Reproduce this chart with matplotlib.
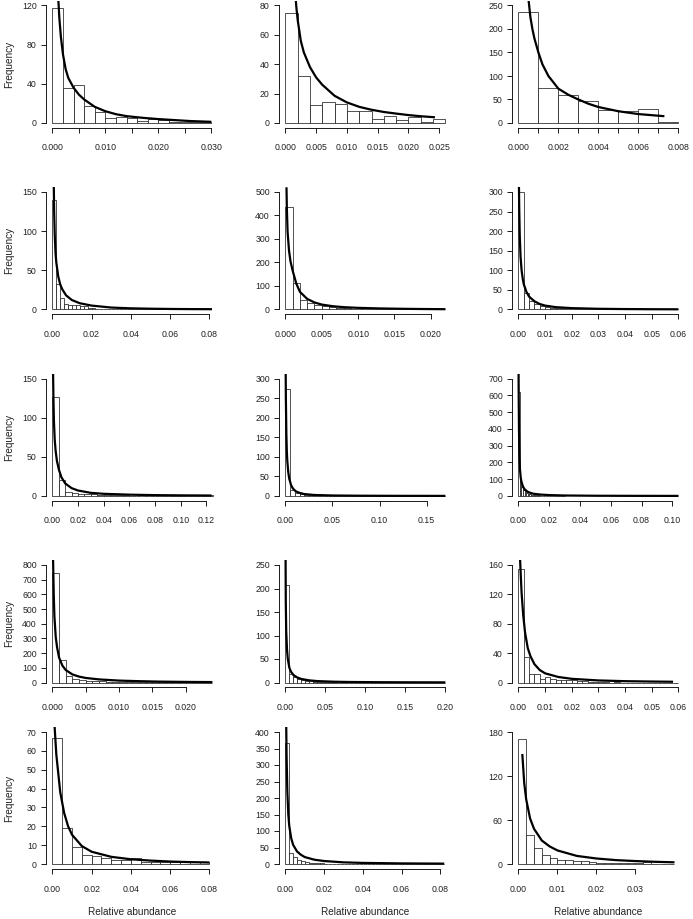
import matplotlib
matplotlib.use('Agg')
import matplotlib.pyplot as plt
import numpy as np

plt.rcParams['font.family'] = ['Liberation Sans', 'DejaVu Sans']

# ------------------------------------------------------------------ data
# Row 1
bw_r1c1 = 0.002
counts_r1c1 = [117, 36, 39, 17, 11, 5, 6, 5, 2, 4, 3, 1, 1, 1, 1]
cx_r1c1 = [0.0011, 0.0013, 0.0016, 0.002, 0.0025, 0.003, 0.004, 0.005, 0.006, 0.008,
           0.010, 0.012, 0.014, 0.017, 0.020, 0.023, 0.026, 0.030]
cy_r1c1 = [128, 108, 88, 70, 55, 46, 36, 29, 24, 16.5, 12, 9, 7, 5.3, 4, 3, 2, 1.2]
yt_r1c1 = [0, 40, 80, 120]
xt_r1c1 = [0, 0.005, 0.010, 0.015, 0.020, 0.025, 0.030]
xl_r1c1 = ['0.000', '', '0.010', '', '0.020', '', '0.030']
xmax_r1c1 = 0.0302

bw_r1c2 = 0.002
counts_r1c2 = [75, 32, 12, 14, 13, 8, 8, 3, 5, 2, 4, 1, 3]
cx_r1c2 = [0.0016, 0.0018, 0.002, 0.0025, 0.003, 0.004, 0.005, 0.006, 0.008, 0.010,
           0.012, 0.014, 0.016, 0.018, 0.020, 0.022, 0.0243]
cy_r1c2 = [88, 78, 70, 56, 48, 38, 31, 26, 18.5, 14, 11, 9, 7.5, 6.4, 5.4, 4.6, 3.9]
yt_r1c2 = [0, 20, 40, 60, 80]
xt_r1c2 = [0, 0.005, 0.010, 0.015, 0.020, 0.025]
xl_r1c2 = ['0.000', '0.005', '0.010', '0.015', '0.020', '0.025']
xmax_r1c2 = 0.026

bw_r1c3 = 0.001
counts_r1c3 = [236, 75, 59, 47, 27, 25, 29, 3]
cx_r1c3 = [0.0005, 0.0006, 0.0007, 0.0008, 0.001, 0.0012, 0.0015, 0.002, 0.0025, 0.003,
           0.0035, 0.004, 0.005, 0.006, 0.007, 0.0073]
cy_r1c3 = [265, 225, 200, 180, 150, 125, 100, 73, 60, 50, 41, 34, 25, 19, 15.5, 14.5]
yt_r1c3 = [0, 50, 100, 150, 200, 250]
xt_r1c3 = [0, 0.001, 0.002, 0.003, 0.004, 0.005, 0.006, 0.007, 0.008]
xl_r1c3 = ['0.000', '', '0.002', '', '0.004', '', '0.006', '', '0.008']
xmax_r1c3 = 0.008

# Row 2
bw_r2c1 = 0.002
counts_r2c1 = [140, 32, 15, 7, 6, 6, 6, 4, 5, 2, 2, 1, 1, 1, 1, 0, 1, 0, 0, 0,
               0, 0, 0, 0, 0, 0, 0, 0, 0, 0, 0, 0, 0, 0, 0, 0, 0, 0, 0, 1]
cx_r2c1 = [0.0007, 0.0009, 0.0012, 0.0016, 0.002, 0.003, 0.004, 0.005, 0.007, 0.010,
           0.014, 0.020, 0.030, 0.040, 0.050, 0.060, 0.070, 0.0815]
cy_r2c1 = [160, 125, 95, 72, 60, 42, 32, 26, 18, 12, 8, 5, 2.5, 1.5, 1, 0.7, 0.5, 0.4]
yt_r2c1 = [0, 50, 100, 150]
xt_r2c1 = [0, 0.02, 0.04, 0.06, 0.08]
xl_r2c1 = ['0.00', '0.02', '0.04', '0.06', '0.08']
xmax_r2c1 = 0.0817

bw_r2c2 = 0.001
counts_r2c2 = [435, 113, 42, 28, 21, 14, 11, 8, 6, 4, 3, 3, 2, 2, 1, 1, 1, 1, 0, 1, 0, 1]
cx_r2c2 = [0.00015, 0.0002, 0.0003, 0.0005, 0.0007, 0.001, 0.0015, 0.002, 0.003, 0.004,
           0.005, 0.0065, 0.008, 0.010, 0.013, 0.016, 0.019, 0.022]
cy_r2c2 = [520, 430, 330, 250, 205, 165, 110, 75, 45, 30, 21, 14, 10, 7, 4.5, 3, 2, 1.3]
yt_r2c2 = [0, 100, 200, 300, 400, 500]
xt_r2c2 = [0, 0.005, 0.010, 0.015, 0.020]
xl_r2c2 = ['0.000', '0.005', '0.010', '0.015', '0.020']
xmax_r2c2 = 0.022

bw_r2c3 = 0.002
counts_r2c3 = [301, 42, 22, 14, 10, 7, 5, 4, 3, 2, 2, 1, 1, 1, 1, 1, 0, 1, 0, 0,
               0, 0, 0, 0, 0, 0, 0, 0, 0, 0]
cx_r2c3 = [0.0002, 0.0003, 0.0005, 0.0008, 0.0012, 0.0016, 0.002, 0.003, 0.004, 0.006,
           0.008, 0.010, 0.014, 0.020, 0.030, 0.040, 0.050, 0.060]
cy_r2c3 = [320, 260, 190, 135, 100, 80, 65, 45, 33, 21, 14, 10, 6, 3.5, 1.8, 1.1, 0.7, 0.5]
yt_r2c3 = [0, 50, 100, 150, 200, 250, 300]
xt_r2c3 = [0, 0.01, 0.02, 0.03, 0.04, 0.05, 0.06]
xl_r2c3 = ['0.00', '0.01', '0.02', '0.03', '0.04', '0.05', '0.06']
xmax_r2c3 = 0.06

# Row 3
bw_r3c1 = 0.005
counts_r3c1 = [126, 20, 5, 4, 3, 3, 2, 1, 1, 1, 1, 1, 0, 0, 0, 0, 0, 0, 0, 1, 0, 0, 0, 0, 1]
cx_r3c1 = [0.0005, 0.0008, 0.0012, 0.0018, 0.0025, 0.0035, 0.005, 0.007, 0.010, 0.015,
           0.020, 0.030, 0.040, 0.060, 0.080, 0.100, 0.124]
cy_r3c1 = [160, 125, 95, 72, 58, 45, 34, 24, 16, 10, 7, 4, 2.8, 1.7, 1.1, 0.8, 0.6]
yt_r3c1 = [0, 50, 100, 150]
xt_r3c1 = [0, 0.02, 0.04, 0.06, 0.08, 0.10, 0.12]
xl_r3c1 = ['0.00', '0.02', '0.04', '0.06', '0.08', '0.10', '0.12']
xmax_r3c1 = 0.1247

bw_r3c2 = 0.005
counts_r3c2 = [273, 15, 8, 5, 3, 2, 2, 1, 1, 1, 1, 0, 1, 0, 0, 0, 0, 0, 0, 0,
               0, 0, 0, 0, 0, 0, 0, 0, 0, 0, 0, 0, 0, 0]
cx_r3c2 = [0.0003, 0.0005, 0.001, 0.0015, 0.002, 0.003, 0.004, 0.006, 0.008, 0.011,
           0.015, 0.020, 0.030, 0.050, 0.080, 0.120, 0.170]
cy_r3c2 = [320, 250, 160, 115, 90, 62, 45, 28, 19, 12, 8, 5, 2.7, 1.3, 0.7, 0.4, 0.3]
yt_r3c2 = [0, 50, 100, 150, 200, 250, 300]
xt_r3c2 = [0, 0.05, 0.10, 0.15]
xl_r3c2 = ['0.00', '0.05', '0.10', '0.15']
xmax_r3c2 = 0.170

bw_r3c3 = 0.001
counts_r3c3 = [622, 110, 55, 35, 25, 18, 14, 10, 8, 6, 5, 4, 3, 3, 2, 2, 2, 1, 1, 1,
               1, 1, 0, 1, 0, 1, 0, 0, 1, 0]
cx_r3c3 = [0.0001, 0.0002, 0.0004, 0.0007, 0.001, 0.0015, 0.002, 0.003, 0.004, 0.006,
           0.008, 0.010, 0.015, 0.020, 0.030, 0.050, 0.075, 0.104]
cy_r3c3 = [760, 600, 380, 230, 160, 110, 84, 56, 40, 25, 18, 13, 8, 5.5, 3, 1.5, 0.9, 0.6]
yt_r3c3 = [0, 100, 200, 300, 400, 500, 600, 700]
xt_r3c3 = [0, 0.02, 0.04, 0.06, 0.08, 0.10]
xl_r3c3 = ['0.00', '0.02', '0.04', '0.06', '0.08', '0.10']
xmax_r3c3 = 0.1039

# Row 4
bw_r4c1 = 0.001
counts_r4c1 = [748, 154, 45, 25, 18, 13, 9, 7, 5, 4, 3, 3, 2, 2, 1, 1, 1, 1, 1, 1,
               1, 0, 1, 0]
cx_r4c1 = [0.0001, 0.0002, 0.0003, 0.0005, 0.0007, 0.001, 0.0015, 0.002, 0.003, 0.004,
           0.005, 0.007, 0.010, 0.013, 0.016, 0.020, 0.024]
cy_r4c1 = [840, 600, 450, 310, 240, 170, 115, 85, 55, 40, 31, 21, 13, 9, 6, 4, 2.8]
yt_r4c1 = [0, 100, 200, 300, 400, 500, 600, 700, 800]
xt_r4c1 = [0, 0.005, 0.010, 0.015, 0.020]
xl_r4c1 = ['0.000', '0.005', '0.010', '0.015', '0.020']
xmax_r4c1 = 0.024

bw_r4c2 = 0.005
counts_r4c2 = [208, 18, 11, 8, 6, 4, 3, 2, 2, 1, 1, 1, 1, 0, 1, 0, 0, 0, 0, 0,
               0, 0, 0, 0, 0, 0, 0, 0, 0, 0, 0, 0, 0, 0, 0, 0, 0, 0, 0, 0]
cx_r4c2 = [0.0002, 0.0005, 0.001, 0.002, 0.003, 0.005, 0.007, 0.010, 0.015, 0.020,
           0.030, 0.040, 0.060, 0.080, 0.120, 0.160, 0.200]
cy_r4c2 = [270, 170, 110, 70, 50, 31, 23, 16, 10.5, 7.5, 4.5, 3, 1.7, 1.1, 0.6, 0.4, 0.3]
yt_r4c2 = [0, 50, 100, 150, 200, 250]
xt_r4c2 = [0, 0.05, 0.10, 0.15, 0.20]
xl_r4c2 = ['0.00', '0.05', '0.10', '0.15', '0.20']
xmax_r4c2 = 0.20

bw_r4c3 = 0.002
counts_r4c3 = [155, 35, 12, 12, 5, 8, 5, 3, 4, 3, 3, 2, 2, 1, 1, 1, 1, 0, 1, 0,
               0, 0, 0, 0, 0, 0, 0, 0, 0, 0]
cx_r4c3 = [0.0006, 0.0009, 0.0012, 0.0018, 0.0025, 0.0035, 0.0045, 0.006, 0.008, 0.010,
           0.015, 0.020, 0.030, 0.040, 0.050, 0.058]
cy_r4c3 = [170, 145, 122, 92, 68, 47, 36, 25, 17, 12.5, 7.5, 5, 2.8, 1.8, 1.3, 1.0]
yt_r4c3 = [0, 40, 80, 120, 160]
xt_r4c3 = [0, 0.01, 0.02, 0.03, 0.04, 0.05, 0.06]
xl_r4c3 = ['0.00', '0.01', '0.02', '0.03', '0.04', '0.05', '0.06']
xmax_r4c3 = 0.06

# Row 5
bw_r5c1 = 0.005
counts_r5c1 = [67, 19, 9, 5, 4, 3, 2, 2, 3, 1, 1, 1, 1, 1, 0, 1]
cx_r5c1 = [0.001, 0.002, 0.004, 0.006, 0.008, 0.010, 0.015, 0.020, 0.030, 0.040,
           0.050, 0.060, 0.070, 0.080]
cy_r5c1 = [75, 58, 38, 27, 20, 15.5, 9.5, 6.5, 3.8, 2.5, 1.8, 1.3, 1.0, 0.8]
yt_r5c1 = [0, 10, 20, 30, 40, 50, 60, 70]
xt_r5c1 = [0, 0.02, 0.04, 0.06, 0.08]
xl_r5c1 = ['0.00', '0.02', '0.04', '0.06', '0.08']
xmax_r5c1 = 0.0815

bw_r5c2 = 0.002
counts_r5c2 = [368, 32, 22, 12, 8, 5, 4, 3, 2, 2, 1, 1, 1, 1, 0, 1, 0, 0, 0, 1,
               0, 0, 0, 0, 0, 0, 0, 0, 0, 0, 0, 0, 0, 0, 0, 0, 0, 0, 0, 0, 0]
cx_r5c2 = [0.0004, 0.0006, 0.001, 0.0015, 0.002, 0.003, 0.004, 0.006, 0.008, 0.010,
           0.015, 0.020, 0.030, 0.040, 0.060, 0.082]
cy_r5c2 = [430, 330, 220, 150, 115, 78, 58, 38, 28, 21, 13, 9, 5, 3.3, 1.8, 1.1]
yt_r5c2 = [0, 50, 100, 150, 200, 250, 300, 350, 400]
xt_r5c2 = [0, 0.02, 0.04, 0.06, 0.08]
xl_r5c2 = ['0.00', '0.02', '0.04', '0.06', '0.08']
xmax_r5c2 = 0.0826

bw_r5c3 = 0.002
counts_r5c3 = [170, 40, 22, 12, 8, 6, 5, 4, 4, 3, 2, 2, 2, 1, 1, 1, 3, 0, 0, 0]
cx_r5c3 = [0.001, 0.0015, 0.002, 0.003, 0.004, 0.006, 0.008, 0.010, 0.015, 0.020,
           0.025, 0.030, 0.035, 0.040]
cy_r5c3 = [150, 110, 88, 62, 48, 32, 24, 18.5, 11, 7.5, 5.3, 4, 3, 2.3]
yt_r5c3 = [0, 60, 120, 180]
xt_r5c3 = [0, 0.01, 0.02, 0.03]
xl_r5c3 = ['0.00', '0.01', '0.02', '0.03']
xmax_r5c3 = 0.041

ylabel_text = 'Frequency'
xlabel_text = 'Relative abundance'

# ------------------------------------------------------------------ layout
W, H = 693, 919
fig = plt.figure(figsize=(W / 100, H / 100), dpi=100)

panels = [
    [(bw_r1c1, counts_r1c1, cx_r1c1, cy_r1c1, yt_r1c1, xt_r1c1, xl_r1c1, xmax_r1c1),
     (bw_r1c2, counts_r1c2, cx_r1c2, cy_r1c2, yt_r1c2, xt_r1c2, xl_r1c2, xmax_r1c2),
     (bw_r1c3, counts_r1c3, cx_r1c3, cy_r1c3, yt_r1c3, xt_r1c3, xl_r1c3, xmax_r1c3)],
    [(bw_r2c1, counts_r2c1, cx_r2c1, cy_r2c1, yt_r2c1, xt_r2c1, xl_r2c1, xmax_r2c1),
     (bw_r2c2, counts_r2c2, cx_r2c2, cy_r2c2, yt_r2c2, xt_r2c2, xl_r2c2, xmax_r2c2),
     (bw_r2c3, counts_r2c3, cx_r2c3, cy_r2c3, yt_r2c3, xt_r2c3, xl_r2c3, xmax_r2c3)],
    [(bw_r3c1, counts_r3c1, cx_r3c1, cy_r3c1, yt_r3c1, xt_r3c1, xl_r3c1, xmax_r3c1),
     (bw_r3c2, counts_r3c2, cx_r3c2, cy_r3c2, yt_r3c2, xt_r3c2, xl_r3c2, xmax_r3c2),
     (bw_r3c3, counts_r3c3, cx_r3c3, cy_r3c3, yt_r3c3, xt_r3c3, xl_r3c3, xmax_r3c3)],
    [(bw_r4c1, counts_r4c1, cx_r4c1, cy_r4c1, yt_r4c1, xt_r4c1, xl_r4c1, xmax_r4c1),
     (bw_r4c2, counts_r4c2, cx_r4c2, cy_r4c2, yt_r4c2, xt_r4c2, xl_r4c2, xmax_r4c2),
     (bw_r4c3, counts_r4c3, cx_r4c3, cy_r4c3, yt_r4c3, xt_r4c3, xl_r4c3, xmax_r4c3)],
    [(bw_r5c1, counts_r5c1, cx_r5c1, cy_r5c1, yt_r5c1, xt_r5c1, xl_r5c1, xmax_r5c1),
     (bw_r5c2, counts_r5c2, cx_r5c2, cy_r5c2, yt_r5c2, xt_r5c2, xl_r5c2, xmax_r5c2),
     (bw_r5c3, counts_r5c3, cx_r5c3, cy_r5c3, yt_r5c3, xt_r5c3, xl_r5c3, xmax_r5c3)],
]

col_left = [46, 279, 512]                 # px, left edge of plotting region
region_w = 172.8                          # px
row_zero = [123, 309.5, 496, 682.5, 864]  # px of y = 0 per row
row_toptick = [5.5, 192, 378.5, 565, 732] # px of top tick per row
axis_col = '#1a1a1a'
tick_fs, lab_fs = 6.3, 7.2

for r, row in enumerate(panels):
    zero_y = row_zero[r]
    data_h = zero_y - row_toptick[r]
    top = zero_y - data_h * 1.04
    bottom = zero_y + data_h * 0.04
    for c, (bw, counts, cx, cy, yt, xt, xl, xmax) in enumerate(row):
        left = col_left[c]
        ax = fig.add_axes([left / W, 1 - bottom / H, region_w / W, (bottom - top) / H])
        edges = np.arange(len(counts)) * bw
        ax.bar(edges, counts, width=bw, align='edge', color='white',
               edgecolor='#222222', linewidth=0.55, zorder=2)
        ax.plot(cx, cy, color='black', lw=1.6, zorder=3, solid_capstyle='butt')
        ymax = yt[-1]
        ax.set_xlim(-0.04 * xmax, 1.04 * xmax)
        ax.set_ylim(-0.04 * ymax, 1.04 * ymax)
        ax.set_yticks(yt)
        ax.set_yticklabels([str(v) for v in yt])
        ax.set_xticks(xt)
        ax.set_xticklabels(xl)
        for s in ['top', 'right']:
            ax.spines[s].set_visible(False)
        ax.spines['left'].set_bounds(yt[0], yt[-1])
        ax.spines['bottom'].set_bounds(xt[0], xt[-1])
        for s in ['left', 'bottom']:
            ax.spines[s].set_linewidth(0.7)
            ax.spines[s].set_color(axis_col)
        ax.tick_params(axis='both', direction='out', length=3.6, width=0.7,
                       color=axis_col, labelsize=tick_fs, labelcolor='#222222')
        ax.tick_params(axis='x', pad=7.5)
        ax.tick_params(axis='y', pad=3)
        ax.patch.set_visible(False)
        if c == 0:
            fig.text(9 / W, 1 - ((top + bottom) / 2) / H, ylabel_text, rotation=90,
                     ha='center', va='center', fontsize=lab_fs, color='#222222')
        if r == len(panels) - 1:
            fig.text((left + region_w / 2) / W, 1 - 912 / H, xlabel_text,
                     ha='center', va='center', fontsize=lab_fs, color='#222222')

fig.savefig('out.png', dpi=100, facecolor='white')
